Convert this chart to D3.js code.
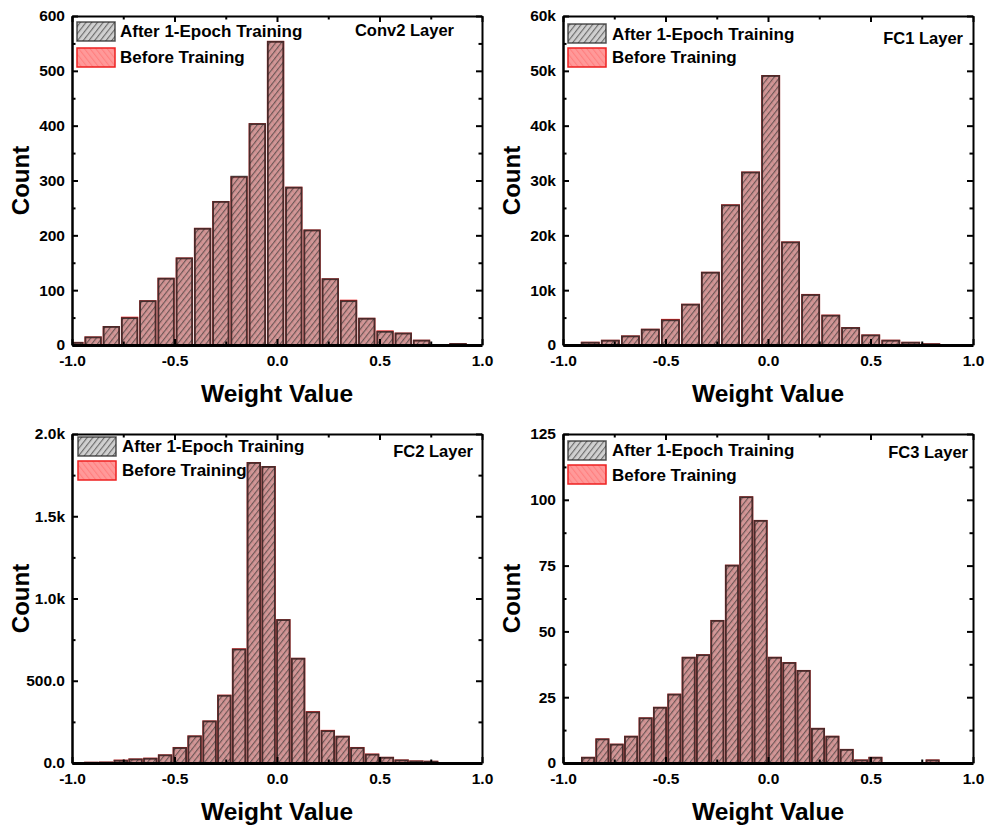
<!DOCTYPE html>
<html>
<head>
<meta charset="utf-8">
<script src="https://cdn.jsdelivr.net/npm/d3@7"></script>
<style>
  html, body { margin: 0; padding: 0; background: #fff; }
  svg { display: block; font-family: Arial, "Liberation Sans", sans-serif; font-weight: bold; }
</style>
</head>
<body>
<svg id="chart" width="989" height="829"></svg>
<script>
// ---- Histogram data: bin centres and counts per layer ----
const conv2Bins   = [-0.986, -0.897, -0.808, -0.719, -0.630, -0.541, -0.452, -0.363, -0.274, -0.185, -0.096, -0.007, 0.082, 0.171, 0.260, 0.349, 0.438, 0.527, 0.616, 0.705, 0.794, 0.883];
const conv2After  = [4, 14, 33, 49, 80, 121, 158, 212, 261, 307, 403, 553, 287, 209, 120, 80, 48, 24, 21, 8, 0, 2];
const conv2Before = [4, 14, 33, 50, 80, 121, 158, 212, 261, 306, 403, 553, 287, 209, 120, 81, 48, 25, 21, 8, 0, 2];

const fc1Bins   = [-0.867, -0.769, -0.671, -0.574, -0.476, -0.378, -0.281, -0.183, -0.085, 0.013, 0.110, 0.208, 0.306, 0.403, 0.501, 0.599, 0.696, 0.794];
const fc1After  = [420, 790, 1580, 2800, 4500, 7360, 13190, 25470, 31470, 49070, 18720, 9120, 5350, 3100, 1760, 790, 420, 150];
const fc1Before = [430, 790, 1580, 2800, 4600, 7360, 13190, 25500, 31470, 49070, 18720, 9150, 5380, 3100, 1760, 800, 420, 150];

const fc2Bins   = [-0.906, -0.834, -0.762, -0.690, -0.618, -0.546, -0.474, -0.402, -0.329, -0.257, -0.185, -0.113, -0.041, 0.031, 0.103, 0.175, 0.248, 0.320, 0.392, 0.464, 0.536, 0.608, 0.680, 0.752];
const fc2After  = [2, 3, 14, 22, 26, 47, 91, 162, 253, 409, 690, 1824, 1800, 869, 634, 308, 194, 160, 91, 51, 32, 16, 10, 8];
const fc2Before = [2, 3, 15, 22, 27, 47, 92, 162, 253, 410, 692, 1824, 1800, 869, 634, 310, 196, 160, 92, 52, 32, 16, 10, 8];

const fc3Bins   = [-0.878, -0.808, -0.738, -0.668, -0.597, -0.527, -0.457, -0.387, -0.317, -0.247, -0.176, -0.106, -0.036, 0.034, 0.104, 0.174, 0.244, 0.314, 0.384, 0.454, 0.524, 0.594, 0.664, 0.734, 0.803];
const fc3After  = [2, 9, 7, 10, 17, 21, 26, 40, 41, 54, 75, 101, 92, 40, 38, 35, 13, 10, 5, 1, 2, 0, 0, 0, 1];
const fc3Before = [2, 9, 7, 10, 17, 21, 26, 40, 41, 54, 75, 101, 92, 40, 38, 35, 13, 10, 5, 1, 2, 0, 0, 0, 1];

// ---- Axis ticks and labels ----
const xTicks      = [-1.0, -0.5, 0.0, 0.5, 1.0];
const xTickLabels = ["-1.0", "-0.5", "0.0", "0.5", "1.0"];
const xMinorTicks = [-0.75, -0.25, 0.25, 0.75];

const conv2YTicks  = [0, 100, 200, 300, 400, 500, 600];
const conv2YLabels = ["0", "100", "200", "300", "400", "500", "600"];
const fc1YTicks    = [0, 10000, 20000, 30000, 40000, 50000, 60000];
const fc1YLabels   = ["0", "10k", "20k", "30k", "40k", "50k", "60k"];
const fc2YTicks    = [0, 500, 1000, 1500, 2000];
const fc2YLabels   = ["0.0", "500.0", "1.0k", "1.5k", "2.0k"];
const fc3YTicks    = [0, 25, 50, 75, 100, 125];
const fc3YLabels   = ["0", "25", "50", "75", "100", "125"];

const seriesNames = ["After 1-Epoch Training", "Before Training"];
const layerNames  = ["Conv2 Layer", "FC1 Layer", "FC2 Layer", "FC3 Layer"];

// ---- Panel layout ----
const panels = [
  { name: layerNames[0], bins: conv2Bins, after: conv2After, before: conv2Before, yTicks: conv2YTicks, yLabels: conv2YLabels,
    box: { l: 72, r: 482, t: 16, b: 345 },
    leg: { sx: 5, sy1: 6, sy2: 32, tx: 48, ty1: 21, ty2: 47 }, ann: { dx: -28, dy: 20 } },
  { name: layerNames[1], bins: fc1Bins, after: fc1After, before: fc1Before, yTicks: fc1YTicks, yLabels: fc1YLabels,
    box: { l: 563, r: 973, t: 16, b: 345 },
    leg: { sx: 5, sy1: 8, sy2: 32, tx: 49, ty1: 24, ty2: 47 }, ann: { dx: -10, dy: 28 } },
  { name: layerNames[2], bins: fc2Bins, after: fc2After, before: fc2Before, yTicks: fc2YTicks, yLabels: fc2YLabels,
    box: { l: 72, r: 482, t: 434, b: 763 },
    leg: { sx: 6, sy1: 3, sy2: 27, tx: 50, ty1: 18, ty2: 42 }, ann: { dx: -9, dy: 23 } },
  { name: layerNames[3], bins: fc3Bins, after: fc3After, before: fc3Before, yTicks: fc3YTicks, yLabels: fc3YLabels,
    box: { l: 563, r: 973, t: 434, b: 763 },
    leg: { sx: 5, sy1: 7, sy2: 31, tx: 49, ty1: 22, ty2: 47 }, ann: { dx: -5, dy: 24 } }
];

const svg = d3.select("#chart");
const defs = svg.append("defs");

// Hatch fills: "After" = grey with forward hatch, "Before" = red with back hatch
function hatch(id, bg, line, angle) {
  const p = defs.append("pattern")
    .attr("id", id).attr("patternUnits", "userSpaceOnUse")
    .attr("width", 4.5).attr("height", 4.5)
    .attr("patternTransform", `rotate(${angle})`);
  p.append("rect").attr("width", 4.5).attr("height", 4.5).attr("fill", bg);
  p.append("line").attr("x1", 0.6).attr("y1", 0).attr("x2", 0.6).attr("y2", 4.5)
    .attr("stroke", line).attr("stroke-width", 1);
}
hatch("hatchAfter", "rgba(150,150,150,0.45)", "rgba(45,45,45,0.7)", 38);
hatch("hatchBefore", "rgba(255,80,80,0.58)", "rgba(255,20,20,0.22)", -38);

const styles = {
  before: { fill: "url(#hatchBefore)", stroke: "#ee2020" },
  after:  { fill: "url(#hatchAfter)",  stroke: "rgba(40,40,40,0.8)" }
};

panels.forEach((P, pi) => {
  const { l, r, t, b } = P.box;
  const g = svg.append("g");

  const x = d3.scaleLinear().domain([-1, 1]).range([l, r]);
  const yMax = P.yTicks[P.yTicks.length - 1];
  const y = d3.scaleLinear().domain([0, yMax]).range([b, t]);

  const clipId = "clip" + pi;
  defs.append("clipPath").attr("id", clipId)
    .append("rect").attr("x", l).attr("y", t).attr("width", r - l).attr("height", b - t);

  const step = P.bins[1] - P.bins[0];
  const bw = Math.abs(x(step) - x(0)) * 0.85;

  const bars = g.append("g").attr("clip-path", `url(#${clipId})`);
  // red "Before" bars underneath, grey "After" bars on top
  [["before", P.before], ["after", P.after]].forEach(([key, vals]) => {
    bars.append("g").selectAll("rect")
      .data(P.bins.map((c, i) => ({ c, v: vals[i] })).filter(d => d.v > 0))
      .join("rect")
      .attr("x", d => x(d.c) - bw / 2)
      .attr("y", d => y(d.v))
      .attr("width", bw)
      .attr("height", d => y(0) - y(d.v))
      .attr("fill", styles[key].fill)
      .attr("stroke", styles[key].stroke)
      .attr("stroke-width", 1.8);
  });

  // axes with inward ticks
  const styleAxis = (sel, w) => {
    sel.select(".domain").attr("stroke", "#000").attr("stroke-width", w);
    sel.selectAll(".tick line").attr("stroke", "#000").attr("stroke-width", 2);
    sel.selectAll("text").attr("fill", "#000").style("font-size", "15.5px")
      .style("font-family", "Arial, 'Liberation Sans', sans-serif").style("font-weight", "bold");
  };

  const minorY = d3.range(0, yMax, P.yTicks[1] / 2).filter((v, i) => i % 2 === 1);

  g.append("g").attr("transform", `translate(0,${t})`)
    .call(d3.axisTop(x).tickValues(xTicks).tickSize(-6).tickSizeOuter(0).tickFormat(""))
    .call(s => styleAxis(s, 2));
  g.append("g").attr("transform", `translate(0,${t})`)
    .call(d3.axisTop(x).tickValues(xMinorTicks).tickSize(-3.5).tickSizeOuter(0).tickFormat(""))
    .call(s => { s.select(".domain").remove(); styleAxis(s, 2); });

  g.append("g").attr("transform", `translate(${r},0)`)
    .call(d3.axisRight(y).tickValues(P.yTicks).tickSize(-6).tickSizeOuter(0).tickFormat(""))
    .call(s => styleAxis(s, 2));
  g.append("g").attr("transform", `translate(${r},0)`)
    .call(d3.axisRight(y).tickValues(minorY).tickSize(-3.5).tickSizeOuter(0).tickFormat(""))
    .call(s => { s.select(".domain").remove(); styleAxis(s, 2); });

  g.append("g").attr("transform", `translate(${l},0)`)
    .call(d3.axisLeft(y).tickValues(P.yTicks).tickSize(-6).tickSizeOuter(0).tickPadding(7)
      .tickFormat((d, i) => P.yLabels[i]))
    .call(s => styleAxis(s, 2.5));
  g.append("g").attr("transform", `translate(${l},0)`)
    .call(d3.axisLeft(y).tickValues(minorY).tickSize(-3.5).tickSizeOuter(0).tickFormat(""))
    .call(s => { s.select(".domain").remove(); styleAxis(s, 2); });

  g.append("g").attr("transform", `translate(0,${b})`)
    .call(d3.axisBottom(x).tickValues(xTicks).tickSize(-6).tickSizeOuter(0).tickPadding(10)
      .tickFormat((d, i) => xTickLabels[i]))
    .call(s => styleAxis(s, 3));
  g.append("g").attr("transform", `translate(0,${b})`)
    .call(d3.axisBottom(x).tickValues(xMinorTicks).tickSize(-3.5).tickSizeOuter(0).tickFormat(""))
    .call(s => { s.select(".domain").remove(); styleAxis(s, 2); });

  // axis titles
  g.append("text")
    .attr("x", (l + r) / 2).attr("y", b + 57)
    .attr("text-anchor", "middle").style("font-size", "24.5px")
    .text("Weight Value");
  g.append("text")
    .attr("transform", `translate(${l - 43},${(t + b) / 2}) rotate(-90)`)
    .attr("text-anchor", "middle").style("font-size", "24px")
    .text("Count");

  // legend
  const L = P.leg;
  [["after", L.sy1, L.ty1], ["before", L.sy2, L.ty2]].forEach(([key, sy, ty], i) => {
    g.append("rect")
      .attr("x", l + L.sx).attr("y", t + sy).attr("width", 38).attr("height", 19)
      .attr("fill", styles[key].fill).attr("stroke", styles[key].stroke).attr("stroke-width", 1.5);
    g.append("text")
      .attr("x", l + L.tx).attr("y", t + ty)
      .style("font-size", "17px")
      .text(seriesNames[i]);
  });

  // layer annotation
  g.append("text")
    .attr("x", r + P.ann.dx).attr("y", t + P.ann.dy)
    .attr("text-anchor", "end").style("font-size", "16.5px")
    .text(P.name);
});
</script>
</body>
</html>
